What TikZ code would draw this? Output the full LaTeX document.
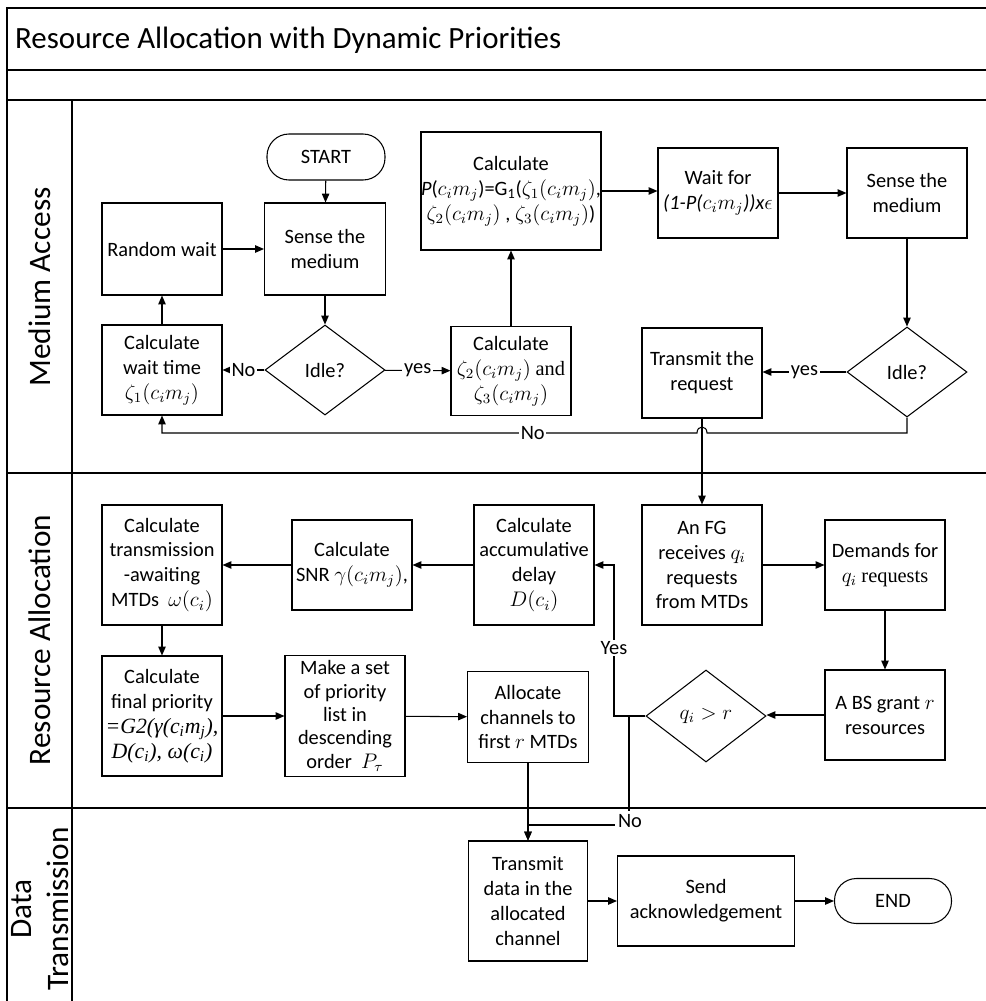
\documentclass[tikz,border=0pt]{standalone}
\usepackage{fontspec}
\setmainfont{Carlito}
\newfontfamily\tnr{Liberation Serif}
\usetikzlibrary{arrows.meta,shapes.geometric,calc}
\newdimen\px \px=0.02cm
\newcommand\tsub[1]{\textsubscript{#1}}
\begin{document}
\begin{tikzpicture}[x=0.02cm,y=-0.02cm,
  every node/.style={font=\fontsize{11.6}{14.2}\selectfont},
  box/.style={draw, line width=0.6pt, align=center, inner sep=0pt, minimum width=120\px, minimum height=90\px},
  term/.style={draw, line width=0.6pt, rounded corners=22\px, align=center, inner sep=0pt, minimum width=118\px, minimum height=46\px},
  dia/.style={draw, line width=0.6pt, diamond, inner sep=0pt, minimum width=120\px, minimum height=90\px},
  arr/.style={line width=0.6pt, -{Triangle[length=5pt,width=4.2pt]}},
  lbl/.style={fill=white, inner sep=1pt},
  frame/.style={line width=0.9pt},
  lane/.style={rotate=90, align=center, font=\fontsize{17.8}{21}\selectfont}
]
\useasboundingbox (0,0) rectangle (986,1001);
% frame
\draw[frame] (986,8) -- (7,8) -- (7,1001);
\draw[frame] (7,70) -- (986,70);
\draw[frame] (7,100) -- (986,100);
\draw[frame] (72,100) -- (72,1001);
\draw[frame] (7,473) -- (986,473);
\draw[frame] (7,808) -- (986,808);
\node[anchor=west, font=\fontsize{17.6}{20}\selectfont] (title) at (9,40) {Resource Allocation with Dynamic Priorities};
\node[lane] (lma) at (40,287) {Medium Access};
\node[lane] (lra) at (40,640) {Resource Allocation};
\node[lane] (ldt) at (40,909) {Data\\Transmission};

% Medium access
\node[term] (start) at (326,157) {START};
\node[box, minimum width=121\px, minimum height=92\px] (s1) at (325,249) {Sense the\\medium};
\node[box, minimum height=92\px] (rw) at (162,249) {Random wait};
\node[dia] (i1) at (325,370) {Idle?};
\node[box] (cw) at (162,370) {Calculate\\wait time\\$\zeta_1(c_im_j)$};
\node[box, minimum height=89\px] (cz) at (511,371) {Calculate\\$\zeta_2(c_im_j)$ {\tnr and}\\$\zeta_3(c_im_j)$};
\node[box, minimum width=180\px, minimum height=118\px] (cp) at (511,191) {Calculate\\{\itshape P}($c_im_j$)=G\textsubscript{1}($\zeta_1(c_im_j)$,\\$\zeta_2(c_im_j)$ , $\zeta_3(c_im_j)$)};
\node[box] (wf) at (718,193) {Wait for\\{\itshape (1-P(}$c_im_j${\itshape ))x}$\epsilon$};
\node[box] (s2) at (907,193) {Sense the\\medium};
\node[dia] (i2) at (907,372) {Idle?};
\node[box] (tr) at (702,373) {Transmit the\\request};

% Resource allocation
\node[box, minimum height=120\px] (fg) at (702,565) {An FG\\receives $q_i$\\requests\\from MTDs};
\node[box] (dm) at (885,565) {Demands for\\$q_i$ {\tnr requests}};
\node[box] (bs) at (885,715) {A BS grant $r$\\resources};
\node[dia, minimum height=92\px] (qr) at (706,716) {$q_i > r$};
\node[box, minimum height=120\px] (ad) at (534,565) {Calculate\\accumulative\\delay\\$D(c_i)$};
\node[box] (snr) at (352,565) {Calculate\\SNR $\gamma(c_im_j)$,};
\node[box, minimum height=120\px] (tm) at (162,565) {Calculate\\transmission\\-awaiting\\MTDs\ \ $\omega(c_i)$};
\node[box, minimum height=120\px] (fp) at (162,716) {Calculate\\final priority\\{\tnr\itshape\fontsize{12.4}{14.2}\selectfont =G2(γ(c\tsub{i}m\tsub{j}),}\\{\tnr\itshape\fontsize{12.4}{14.2}\selectfont D(c\tsub{i}), ω(c\tsub{i})}};
\node[box, minimum height=121\px, font=\fontsize{11.6}{13.3}\selectfont] (ms) at (345,716) {Make a set\\of priority\\list in\\descending\\order\ \ $P_\tau$};
\node[box, minimum width=121\px, minimum height=91\px] (ac) at (528,717) {Allocate\\channels to\\first $r$ MTDs};

% Data transmission
\node[box, minimum width=119\px, minimum height=120\px] (td) at (528,901) {Transmit\\data in the\\allocated\\channel};
\node[box, minimum width=177\px] (sa) at (706,901) {Send\\acknowledgement};
\node[term, minimum width=117\px, minimum height=45\px] (en) at (893,901) {END};

% connectors
\draw[arr] (start) -- (s1);
\draw[arr] (rw) -- (s1);
\draw[arr] (s1) -- (i1);
\draw[arr] (i1) -- node[lbl]{No} (cw);
\draw[arr] (i1) -- node[lbl]{yes} (cz);
\draw[arr] (cw) -- (rw);
\draw[arr] (cz) -- (cp);
\draw[arr] (cp.east) -- (cp.east -| wf.west);
\draw[arr] (wf) -- (s2);
\draw[arr] (s2) -- (i2);
\draw[arr] (i2.west) -- node[lbl]{yes} (i2.west -| tr.east);
\coordinate (n1) at (907,433);
\coordinate (h1) at (707,433);
\coordinate (h2) at (697,433);
\coordinate (n2) at (162,433);
\draw[arr] (i2.south) -- (n1) -- (h1) .. controls (707,425) and (697,425) .. (h2) -- node[lbl, pos=0.307]{No} (n2) -- (cw.south);
\draw[arr] (tr) -- (fg);
\draw[arr] (fg) -- (dm);
\draw[arr] (dm) -- (bs);
\draw[arr] (bs.west) -- (bs.west -| qr.east);
\coordinate (y1) at (614,716);
\coordinate (y2) at (614,565);
\draw[arr] (qr.west) -- (y1) -- node[lbl, pos=0.45]{Yes} (y2) -- (ad.east);
\draw[arr] (ad) -- (snr);
\draw[arr] (snr) -- (tm);
\draw[arr] (tm) -- (fp);
\draw[arr] (fp) -- (ms);
\draw[arr] (ms) -- (ac);
\coordinate (jn) at (629,716);
\coordinate (j2) at (629,825);
\coordinate (j3) at (528,825);
\draw[arr] (jn) -- (j2) -- (j3) -- (td.north);
\node[lbl, inner sep=2pt] (nolbl) at (630,821) {No};
\draw[arr] (ac) -- (td);
\draw[arr] (td) -- (sa);
\draw[arr] (sa) -- (en);
\end{tikzpicture}
\end{document}
